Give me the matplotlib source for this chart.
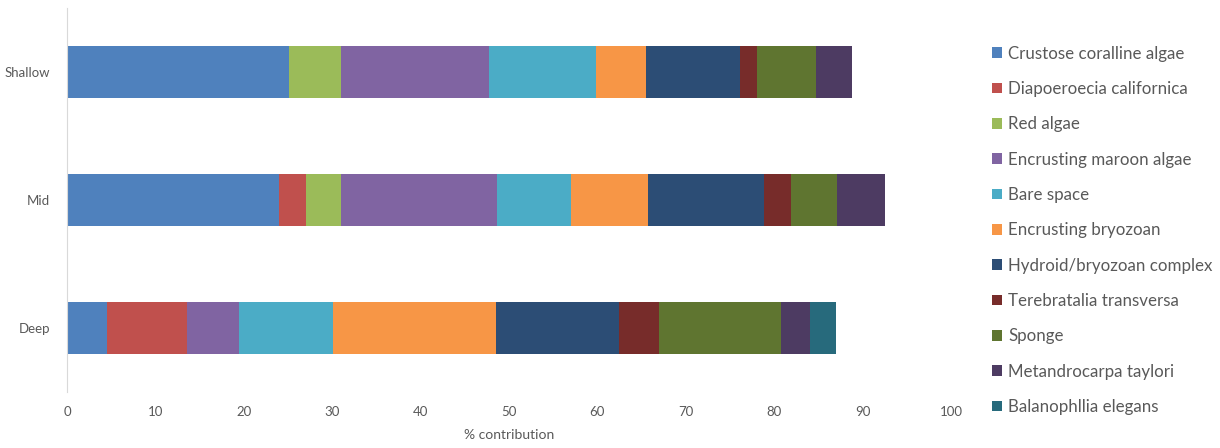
import matplotlib
matplotlib.use('Agg')
import matplotlib.pyplot as plt
import numpy as np

plt.rcParams['font.family'] = ['Lato', 'DejaVu Sans']

# zones, bottom to top as drawn
zones = ['Deep', 'Mid', 'Shallow']

categories = ['Crustose coralline algae', 'Diapoeroecia californica', 'Red algae',
              'Encrusting maroon algae', 'Bare space', 'Encrusting bryozoan',
              'Hydroid/bryozoan complex', 'Terebratalia transversa', 'Sponge',
              'Metandrocarpa taylori', 'Balanophllia elegans']

# % contribution per category for [Deep, Mid, Shallow]
crustose = [4.5, 24.0, 25.1]
diapoeroecia = [9.1, 3.0, 0.0]
red_algae = [0.0, 4.0, 5.9]
maroon_algae = [5.9, 17.7, 16.7]
bare_space = [10.6, 8.3, 12.1]
bryozoan = [18.4, 8.7, 5.7]
hydroid = [14.0, 13.2, 10.6]
terebratalia = [4.5, 3.0, 2.0]
sponge = [13.8, 5.2, 6.6]
metandrocarpa = [3.3, 5.4, 4.1]
balanophllia = [2.9, 0.0, 0.0]

series = [crustose, diapoeroecia, red_algae, maroon_algae, bare_space, bryozoan,
          hydroid, terebratalia, sponge, metandrocarpa, balanophllia]

colors = ['#4F81BD', '#C0504D', '#9BBB59', '#8064A2', '#4BACC6', '#F79646',
          '#2C4D75', '#772C2A', '#5F7530', '#4D3B62', '#276A7C']

fig = plt.figure(figsize=(12.2, 4.48), dpi=100)
ax = fig.add_axes([0.0549, 0.125, 0.7246, 0.857])

y = np.arange(len(zones))
left = np.zeros(len(zones))
for name, vals, c in zip(categories, series, colors):
    ax.barh(y, vals, left=left, height=0.4, color=c, label=name)
    left += np.array(vals)

ax.set_xlim(0, 100)
ax.set_ylim(-0.5, 2.5)
ax.set_xticks(range(0, 101, 10))
ax.set_yticks(y)
ax.set_yticklabels(zones)
ax.tick_params(length=0, colors='#595959', labelsize=9.5)
ax.tick_params(axis='x', pad=10)
ax.tick_params(axis='y', pad=12)
ax.set_xlabel('% contribution', color='#595959', fontsize=10, labelpad=8)

for s in ['top', 'right', 'bottom']:
    ax.spines[s].set_visible(False)
ax.spines['left'].set_color('#D9D9D9')

fig.legend(loc='upper left', bbox_to_anchor=(0.8075, 0.913), frameon=False,
           fontsize=12.2, labelcolor='#595959', handlelength=0.6, handleheight=0.6,
           handletextpad=0.35, labelspacing=1.14, borderaxespad=0)

fig.savefig('out.png', dpi=100)
